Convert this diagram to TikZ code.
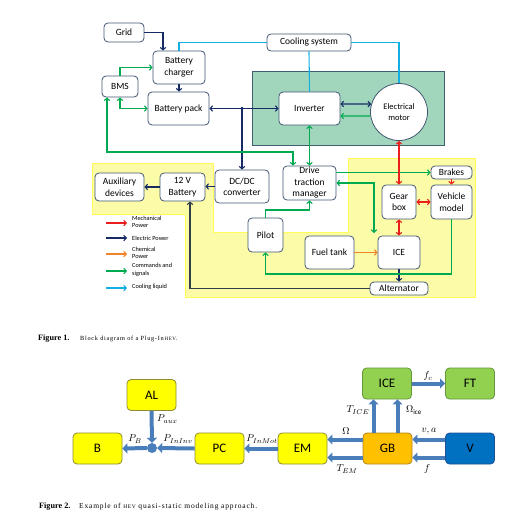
\documentclass[tikz,border=0pt]{standalone}
\usepackage{fontspec}
\setmainfont{Carlito}
\newfontfamily\capfont{Liberation Serif}
\newfontfamily\capspaced[LetterSpace=11]{Liberation Serif}
\usetikzlibrary{arrows.meta,calc}
\definecolor{navyc}{RGB}{22,42,100}
\definecolor{grn}{RGB}{0,170,80}
\definecolor{redc}{RGB}{235,30,30}
\definecolor{orng}{RGB}{240,130,40}
\definecolor{cyanc}{RGB}{20,175,225}
\definecolor{boxc}{RGB}{65,85,115}
\definecolor{tealf}{RGB}{162,214,188}
\definecolor{teald}{RGB}{60,96,112}
\definecolor{yelf}{RGB}{252,252,168}
\definecolor{yeld}{RGB}{255,255,90}
\definecolor{altc}{RGB}{50,62,72}
\definecolor{byel}{RGB}{255,255,0}
\definecolor{byeld}{RGB}{140,140,50}
\definecolor{bgrn}{RGB}{146,208,80}
\definecolor{bgrnd}{RGB}{100,150,60}
\definecolor{borg}{RGB}{255,192,0}
\definecolor{borgd}{RGB}{180,130,30}
\definecolor{bblu}{RGB}{0,112,192}
\definecolor{bblud}{RGB}{30,80,150}
\definecolor{arrb}{RGB}{74,126,187}
\tikzset{
  blk/.style={draw=boxc,line width=0.8pt,rounded corners=4pt,fill=white,align=center,
    inner sep=0.5pt,font=\fontsize{9.5}{11.5}\selectfont},
  conn/.style={line width=1.1pt},
  >={Straight Barb[length=2.5pt,width=5.5pt]},
  mblk/.style={draw,line width=0.8pt,rounded corners=4pt,align=center,inner sep=1pt,
    minimum width=49pt,minimum height=31pt,font=\fontsize{13}{15}\selectfont},
  fat/.style={draw=arrb,line width=4pt,-{Triangle[length=5pt,width=10pt]}},
  lbl/.style={font=\fontsize{10}{12}\selectfont,inner sep=0pt},
  leg/.style={font=\fontsize{6.3}{7.5}\selectfont,anchor=west,align=left,inner sep=0pt},
  capt/.style={anchor=base west,inner sep=0pt}
}
\begin{document}
\begin{tikzpicture}[x=1pt,y=-1pt]
\useasboundingbox (0,0) rectangle (527,514);
% backgrounds
\fill[yelf,draw=yeld,line width=0.8pt] (92,163) -- (213,163) -- (213,232) -- (348,232) -- (348,158)
  -- (475,158) -- (475,297) -- (185,297) -- (185,214) -- (92,214) -- cycle;
\fill[tealf,draw=teald,line width=0.8pt] (252,71) rectangle (444,145);
% nodes
\node[blk,minimum width=40pt,minimum height=19pt] (grid) at (124,32.5) {Grid};
\node[blk,minimum width=52pt,minimum height=33pt] (charger) at (179,67.5) {Battery\\charger};
\node[blk,minimum width=36pt,minimum height=21pt] (bms) at (120,86.5) {BMS};
\node[blk,minimum width=61pt,minimum height=33pt] (pack) at (178.5,108.5) {Battery pack};
\node[blk,minimum width=84pt,minimum height=17pt] (cool) at (309,42.5) {Cooling system};
\node[blk,minimum width=61pt,minimum height=33pt] (inv) at (309.5,108.5) {Inverter};
\node[draw=boxc,line width=0.8pt,fill=white,circle,minimum size=57pt,inner sep=0pt,align=center,
  font=\fontsize{8.5}{11}\selectfont] (motor) at (399,112) {Electrical\\motor};
\node[blk,minimum width=49pt,minimum height=28pt] (aux) at (119.5,187) {Auxiliary\\devices};
\node[blk,minimum width=45pt,minimum height=28pt] (bat) at (182.5,187) {12 V\\Battery};
\node[blk,minimum width=54pt,minimum height=33pt] (dcdc) at (242,186.5) {DC/DC\\converter};
\node[blk,minimum width=53pt,minimum height=34pt] (dtm) at (309.5,183) {Drive\\traction\\manager};
\node[blk,minimum width=35pt,minimum height=34pt] (pilot) at (265.5,235) {Pilot};
\node[blk,minimum width=49pt,minimum height=33pt] (fuel) at (329.5,252.5) {Fuel tank};
\node[blk,minimum width=42pt,minimum height=33pt] (ice) at (399,252.5) {ICE};
\node[blk,minimum width=34pt,minimum height=34pt] (gear) at (399,202) {Gear\\box};
\node[blk,minimum width=41pt,minimum height=34pt] (vm) at (451.5,202) {Vehicle\\model};
\node[blk,minimum width=41pt,minimum height=13pt] (brakes) at (451.5,172.5) {Brakes};
\node[blk,minimum width=58pt,minimum height=13pt] (alt) at (399,288.5) {Alternator};
\coordinate (J) at (242,108.5);
\coordinate (iceIn) at (374,233);
% navy
\draw[conn,navyc,->] (grid.east) -| ([xshift=-16pt]charger.north);
\draw[conn,navyc,->] (charger.south) -- (charger.south |- pack.north);
\draw[conn,navyc,<->] (pack.east) -- (inv.west);
\fill[navyc] (J) circle (1.8pt);
\draw[conn,navyc,->] (J) -- (dcdc.north);
\draw[conn,navyc,<->] ([yshift=4.5pt]inv.east) -- (motor.164);
\draw[conn,navyc,->] (dcdc.west) -- (dcdc.west -| bat.east);
\draw[conn,navyc,->] (bat.west) -- (aux.east);
\draw[conn,navyc,->] (ice.south) -- (alt.north);
\draw[conn,altc,->] (alt.west) -| ([xshift=7.5pt]bat.south);
% green
\draw[conn,grn,->] (bms.north) |- (charger.west);
\draw[conn,grn,<->] (bms.south) |- (pack.west);
\draw[conn,grn,<->] ([xshift=-13pt]bms.south) -- ([xshift=-13pt]bms.south |- 0,152) -| ([xshift=-16.5pt]dtm.north);
\draw[conn,grn,<->] (inv.south) -- (dtm.north);
\draw[conn,grn,->] (motor.188) -- ([yshift=-7.5pt]inv.east);
\draw[conn,grn,->] (dtm.east |- brakes.west) -- (brakes.west);
\draw[conn,grn,<->] (dtm.east) -| (iceIn);
\draw[conn,grn,->] (vm.south) -- (vm.south |- 0,274) -| (pilot.south);
\draw[conn,grn,->] (pilot.north) -- (pilot.north |- 0,210) -| (dtm.south);
% cooling
\draw[conn,cyanc] (charger.north) |- (cool.west);
\draw[conn,cyanc] (cool.east) -| (motor.north);
\draw[conn,cyanc] (cool.south) -- (inv.north);
% red / orange
\draw[conn,redc,<->] (motor.south) -- (gear.north);
\draw[conn,redc,<->] (gear.south) -- (ice.north);
\draw[conn,redc,<->] (gear.east) -- (vm.west);
\draw[conn,redc,->] (brakes.south) -- (vm.north);
\draw[conn,orng,->] (fuel.east) -- (ice.west);
% legend
\coordinate (l1a) at (106,223); \coordinate (l1b) at (127,223);
\coordinate (l2a) at (106,238); \coordinate (l2b) at (127,238);
\coordinate (l3a) at (106,254); \coordinate (l3b) at (127,254);
\coordinate (l4a) at (106,271); \coordinate (l4b) at (127,271);
\coordinate (l5a) at (106,288); \coordinate (l5b) at (127,288);
\draw[conn,redc,->] (l1a) -- (l1b);
\draw[conn,navyc,->] (l2a) -- (l2b);
\draw[conn,orng,->] (l3a) -- (l3b);
\draw[conn,grn,->] (l4a) -- (l4b);
\draw[conn,cyanc,->] (l5a) -- (l5b);
\node[leg] (t1) at (132,222) {Mechanical\\Power};
\node[leg] (t2) at (132,238) {Electric Power};
\node[leg] (t3) at (132,253) {Chemical\\Power};
\node[leg] (t4) at (132,270) {Commands and\\signals};
\node[leg] (t5) at (132,287) {Cooling liquid};
% caption 1
\node[capt,font=\capfont\fontsize{8.2}{9}\selectfont] (cap1a) at (38,340) {\textbf{Figure 1.}};
\node[capt,font=\capspaced\fontsize{6.3}{8}\selectfont] (cap1b) at (80,340)
  {Block diagram\ of a Plug-In\,{\fontsize{5}{6}\selectfont HEV}.};
% bottom diagram
\node[mblk,fill=byel,draw=byeld] (AL) at (151.5,395) {AL};
\node[mblk,fill=byel,draw=byeld] (B) at (97.5,448.5) {B};
\node[mblk,fill=byel,draw=byeld] (PC) at (219.5,448.5) {PC};
\node[mblk,fill=byel,draw=byeld] (EM) at (302.5,448.5) {EM};
\node[mblk,fill=borg,draw=borgd] (GB) at (387.5,448.5) {GB};
\node[mblk,fill=bblu,draw=bblud] (V) at (470,448.5) {V};
\node[mblk,fill=bgrn,draw=bgrnd] (ICE2) at (387,383.5) {ICE};
\node[mblk,fill=bgrn,draw=bgrnd] (FT) at (470,383.5) {FT};
\node[circle,fill=arrb,minimum size=10pt,inner sep=0pt] (jn) at (152,448) {};
\draw[fat] (AL.south) -- (jn.north);
\draw[fat] (PC.west) -- (jn.east);
\draw[fat] (jn.west) -- (B.east);
\draw[fat] (EM.west) -- (PC.east);
\draw[fat] ([yshift=9pt]GB.west) -- ([yshift=9pt]EM.east);
\draw[fat] ([yshift=-9pt]GB.west) -- ([yshift=-9pt]EM.east);
\draw[fat] ([yshift=9pt]V.west) -- ([yshift=9pt]GB.east);
\draw[fat] ([yshift=-9pt]V.west) -- ([yshift=-9pt]GB.east);
\draw[fat] ([xshift=-14pt]GB.north) -- ([xshift=-14pt]GB.north |- ICE2.south);
\draw[fat] ([xshift=10pt]GB.north) -- ([xshift=10pt]GB.north |- ICE2.south);
\draw[fat] (ICE2.east) -- (FT.west);
\node[lbl,anchor=west] (pa) at (157,419) {$P_{aux}$};
\node[lbl] (pii) at (178,439) {$P_{InInv}$};
\node[lbl] (pb) at (135,439) {$P_{B}$};
\node[lbl] (pim) at (262,439) {$P_{InMot}$};
\node[lbl] (om) at (346,431) {$\Omega$};
\node[lbl] (tem) at (347,469) {$T_{EM}$};
\node[lbl] (va) at (429,431) {$v,a$};
\node[lbl] (ff) at (427,469) {$f$};
\node[lbl] (tice) at (358,410) {$T_{ICE}$};
\node[lbl] (omi) at (414,410) {$\Omega_{\mathrm{ice}}$};
\node[lbl] (fc) at (428,376) {$f_c$};
% caption 2
\node[capt,font=\capfont\fontsize{8.2}{9}\selectfont] (cap2a) at (39,508) {\textbf{Figure 2.}};
\node[capt,font=\capspaced\fontsize{7.5}{9}\selectfont] (cap2b) at (79,508)
  {Example of {\fontsize{5.5}{6}\selectfont HEV} quasi-static modeling approach.};
\end{tikzpicture}
\end{document}
